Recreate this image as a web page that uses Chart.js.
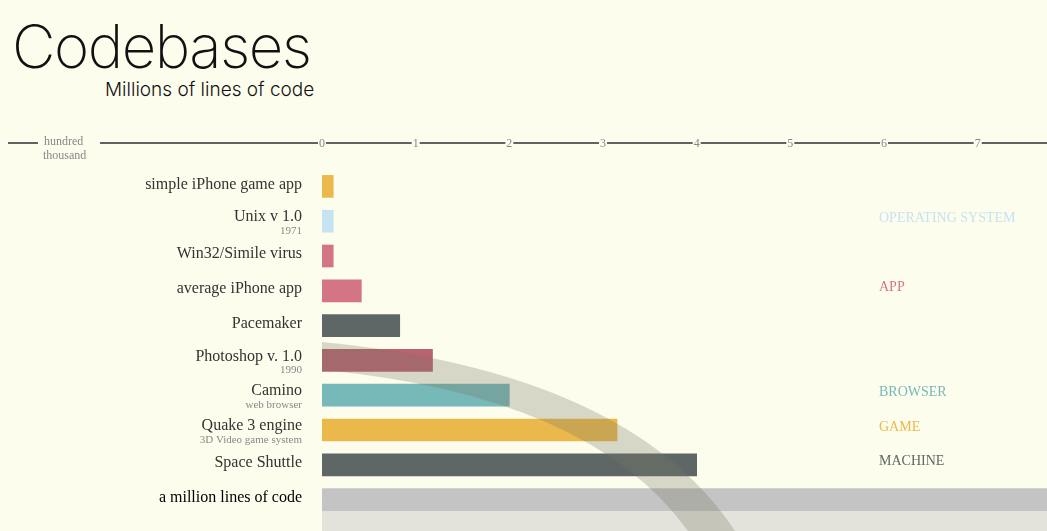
<!DOCTYPE html>
<html>
<head>
<meta charset="utf-8">
<script src="https://cdn.jsdelivr.net/npm/chart.js@4"></script>
<style>
  html, body { margin: 0; padding: 0; background: #fdfdee; }
  #wrap { position: relative; width: 1047px; height: 531px; overflow: hidden; }
  h1 { position: absolute; left: 12px; top: 10px; margin: 0; font: 200 60px Inter, sans-serif; color: #111; letter-spacing: -1.5px; }
  h2 { position: absolute; left: 105px; top: 78px; margin: 0; font: 300 19px Inter, sans-serif; color: #111; }
  #chart { position: absolute; left: 0; top: 0; }
</style>
</head>
<body>
<div id="wrap">
  <h1>Codebases</h1>
  <h2>Millions of lines of code</h2>
  <canvas id="chart" width="1047" height="531"></canvas>
</div>
<script>
// codebase sizes, millions of lines
const labels = ['simple iPhone game app', 'Unix v 1.0', 'Win32/Simile virus', 'average iPhone app',
    'Pacemaker', 'Photoshop v. 1.0', 'Camino', 'Quake 3 engine', 'Space Shuttle', 'a million lines of code'];
const subLabels = ['', '1971', '', '', '', '1990', 'web browser', '3D Video game system', '', ''];
const values = [0.12, 0.12, 0.12, 0.42, 0.83, 1.18, 2.0, 3.15, 4.0, 8];
const barColors = ['#ebb84c', '#c5e3f0', '#d47586', '#d47586', '#5f6766', '#b8636f',
    '#77b8b8', '#ebb84c', '#5f6766', '#c4c4c4'];
const tickLabels = ['0', '1', '2', '3', '4', '5', '6', '7'];
const legendNames = ['OPERATING SYSTEM', 'APP', 'BROWSER', 'GAME', 'MACHINE'];
const legendRows = [1, 3, 6, 7, 8];
const legendColors = ['#c5e3f0', '#d47586', '#77b8b8', '#ebb84c', '#5f6766'];

const serif = '"Liberation Serif", "DejaVu Serif", serif';

const decor = {
    id: 'decor',
    beforeDatasetsDraw(chart) {
        const { ctx, chartArea, scales } = chart;
        const x = scales.x, y = scales.y;
        ctx.save();
        // pale area below the million bar
        const yb = y.getPixelForValue(9) + 11;
        ctx.fillStyle = '#e3e3dc';
        ctx.fillRect(chartArea.left, yb, chartArea.right - chartArea.left, 531 - yb);
        // axis line with label gaps
        ctx.strokeStyle = '#5f6361';
        ctx.lineWidth = 2;
        ctx.beginPath();
        ctx.moveTo(8, 143); ctx.lineTo(38, 143);
        ctx.moveTo(100, 143); ctx.lineTo(1047, 143);
        ctx.stroke();
        ctx.font = '12px ' + serif;
        ctx.textAlign = 'center';
        ctx.textBaseline = 'middle';
        tickLabels.forEach((t, i) => {
            const px = x.getPixelForValue(i);
            ctx.fillStyle = '#fdfdee';
            ctx.fillRect(px - 4, 136, 8, 14);
            ctx.fillStyle = '#888';
            ctx.fillText(t, px, 144);
        });
        ctx.textAlign = 'left';
        ctx.fillText('hundred', 44, 142);
        ctx.fillText('thousand', 43, 156);
        // category labels
        ctx.textAlign = 'right';
        labels.forEach((l, i) => {
            const py = y.getPixelForValue(i);
            ctx.font = '16px ' + serif;
            ctx.fillStyle = i === 9 ? '#000' : '#333';
            ctx.fillText(l, 302, subLabels[i] ? py - 4 : py - 2);
            if (subLabels[i]) {
                ctx.font = '11px ' + serif;
                ctx.fillStyle = '#888';
                ctx.fillText(subLabels[i], 302, py + 10);
            }
        });
        // legend
        ctx.textAlign = 'left';
        ctx.font = '14px ' + serif;
        legendNames.forEach((n, i) => {
            ctx.fillStyle = legendColors[i];
            ctx.fillText(n, 879, y.getPixelForValue(legendRows[i]) - 3);
        });
        ctx.restore();
    },
    afterDatasetsDraw(chart) {
        const { ctx } = chart;
        const left = chart.chartArea.left;
        ctx.save();
        ctx.fillStyle = 'rgba(120,120,100,0.28)';
        ctx.beginPath();
        ctx.moveTo(left, 342);
        ctx.quadraticCurveTo(630, 372, 735, 531);
        ctx.lineTo(688, 531);
        ctx.quadraticCurveTo(590, 395, left, 370);
        ctx.closePath();
        ctx.fill();
        ctx.restore();
    }
};

new Chart(document.getElementById('chart'), {
    type: 'bar',
    data: {
        labels: labels,
        datasets: [{
            data: values,
            backgroundColor: barColors,
            barThickness: 22
        }]
    },
    options: {
        indexAxis: 'y',
        responsive: false,
        animation: false,
        layout: { padding: { left: 322, top: 169, bottom: 14, right: 0 } },
        plugins: { legend: { display: false }, tooltip: { enabled: false } },
        scales: {
            x: { min: 0, max: 7.74, display: false },
            y: { display: false }
        }
    },
    plugins: [decor]
});
</script>
</body>
</html>
